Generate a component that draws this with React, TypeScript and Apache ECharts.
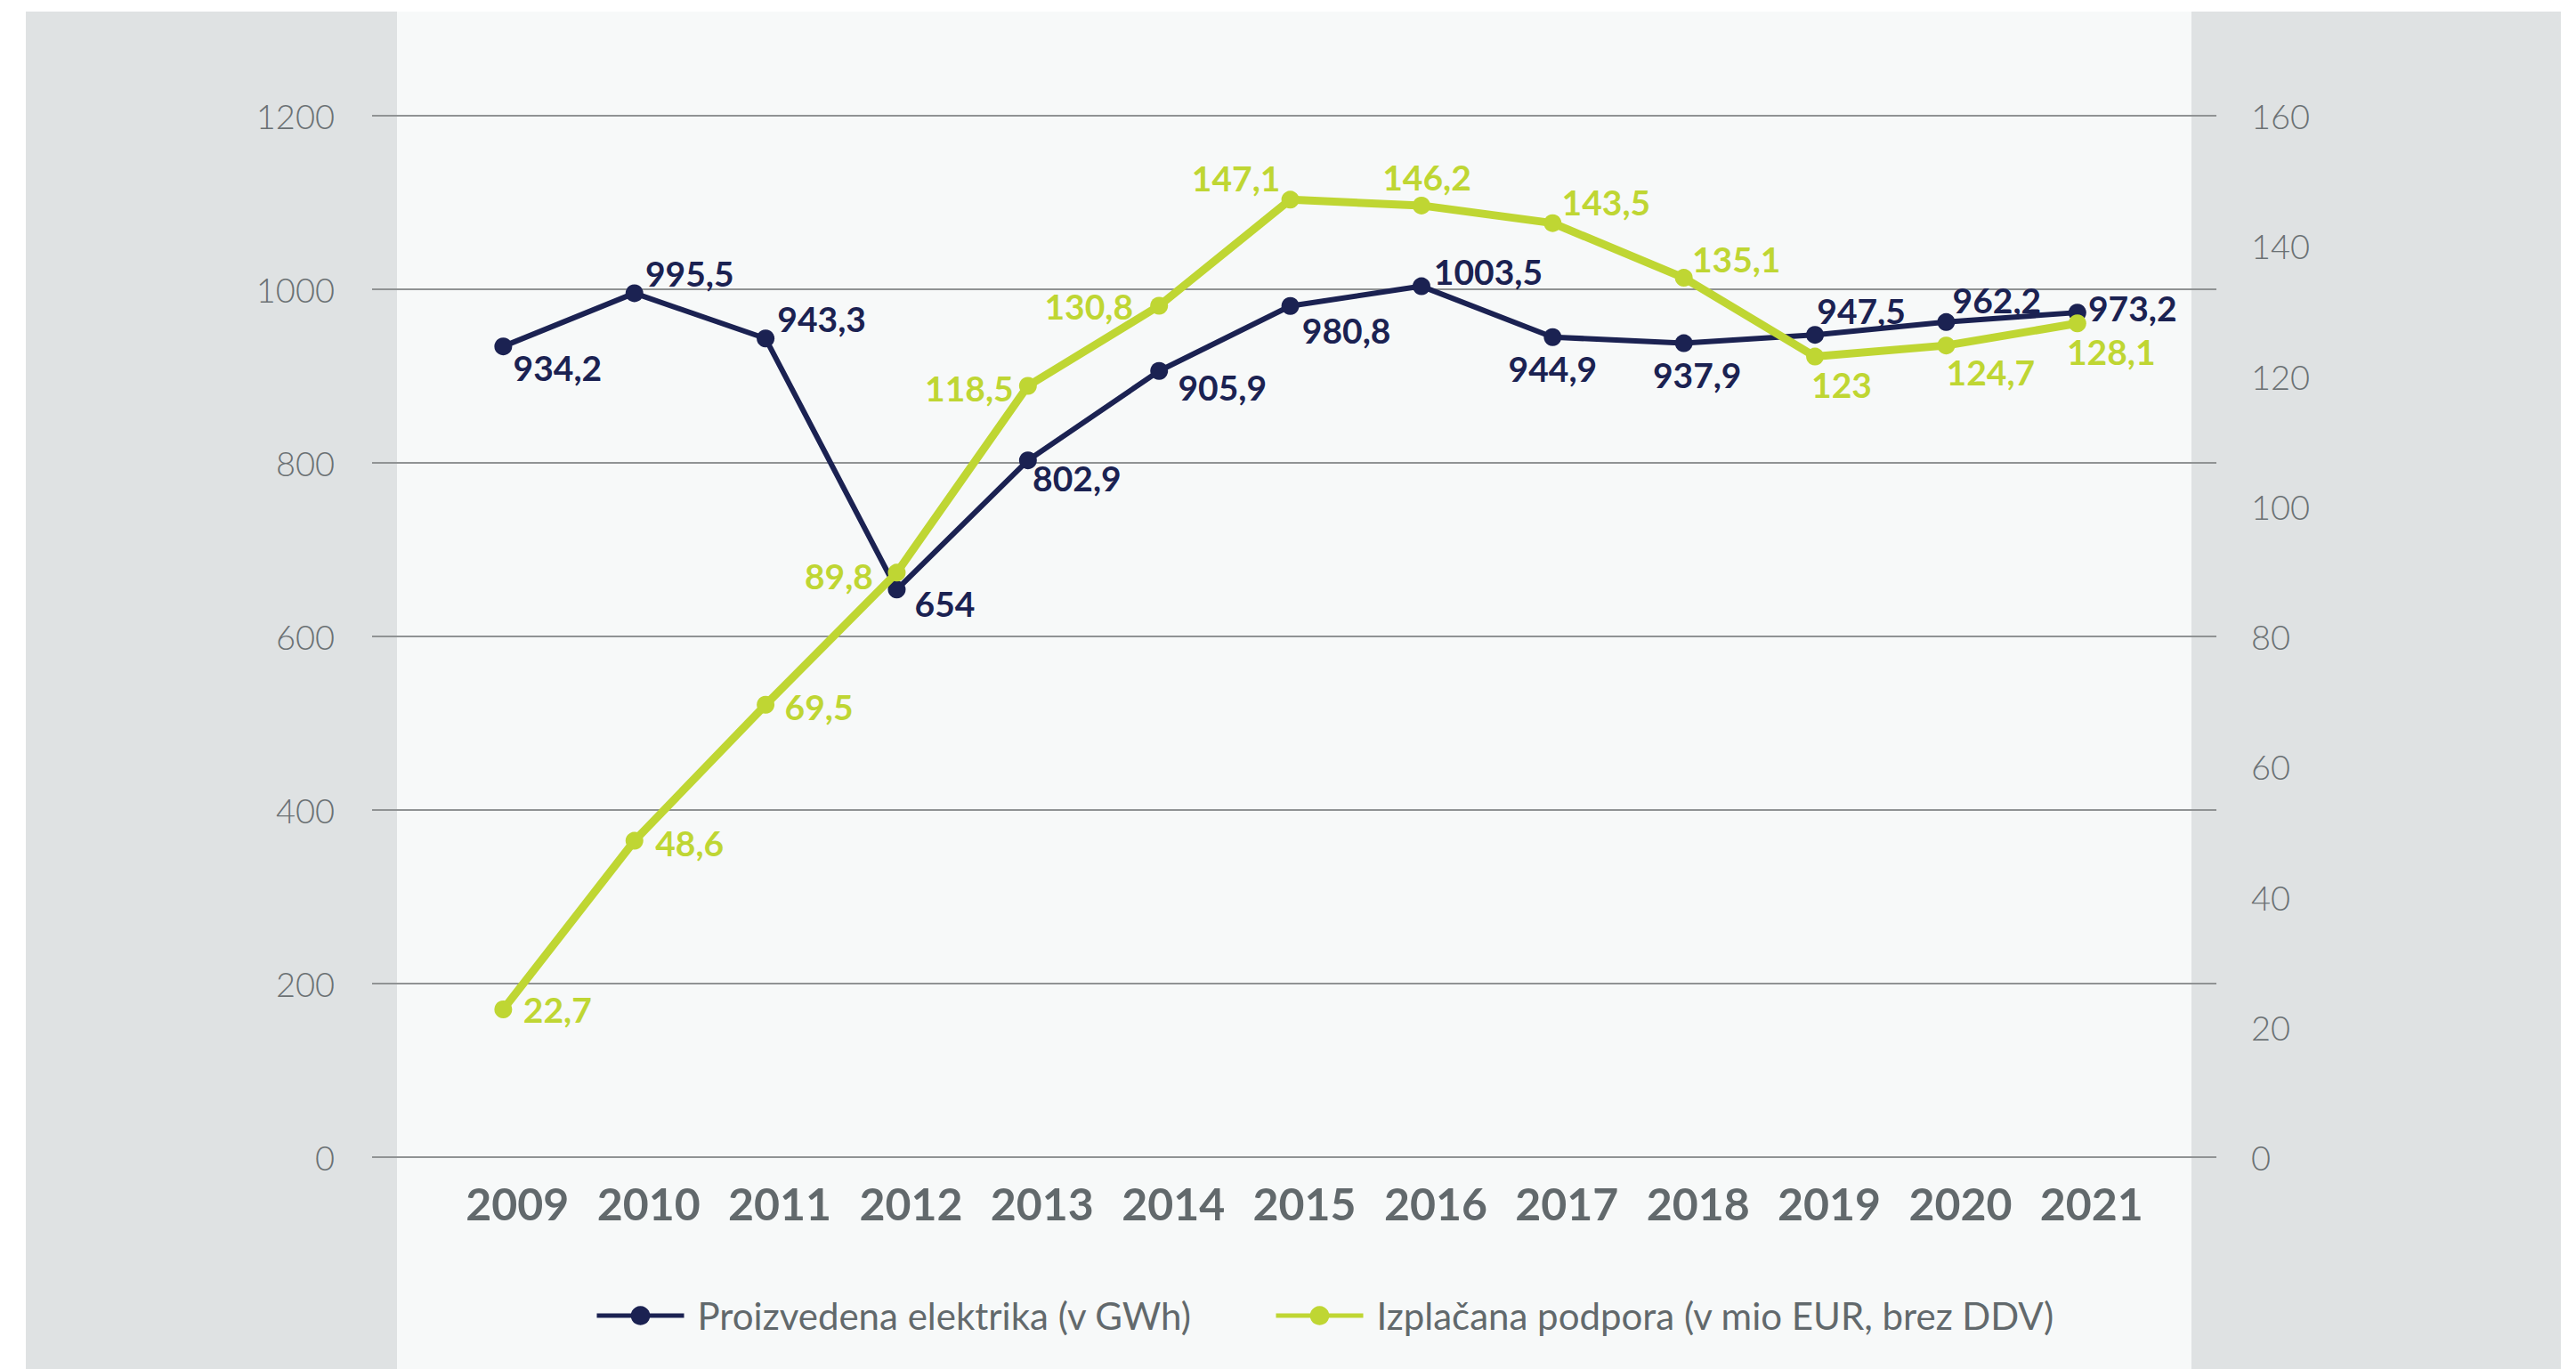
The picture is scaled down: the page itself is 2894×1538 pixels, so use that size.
import React, { useEffect, useRef } from "react";
import * as echarts from "echarts";

// ---- data ----
const years = [2009, 2010, 2011, 2012, 2013, 2014, 2015, 2016, 2017, 2018, 2019, 2020, 2021];
const production = [934.2, 995.5, 943.3, 654, 802.9, 905.9, 980.8, 1003.5, 944.9, 937.9, 947.5, 962.2, 973.2];
const support = [22.7, 48.6, 69.5, 89.8, 118.5, 130.8, 147.1, 146.2, 143.5, 135.1, 123, 124.7, 128.1];
const seriesNames = ["Proizvedena elektrika (v GWh)", "Izplačana podpora (v mio EUR, brez DDV)"];
const leftAxis = { min: 0, max: 1200, interval: 200 };
const rightAxis = { min: 0, max: 160, interval: 20 };

// ---- label placement (pixel offsets from each point) ----
const productionLabelOffsets = [
  [61, 24], [62, -22], [63, -22], [54, 16], [55, 20], [71, 18], [63, 27],
  [75, -17], [0, 35], [15, 35], [52, -27], [57, -25], [62, -5],
];
const supportLabelOffsets = [
  [61, 0], [62, 2], [60, 2], [-65, 4], [-66, 3], [-79, 0], [-61, -24],
  [6, -32], [60, -24], [59, -21], [30, 31], [50, 30], [38, 32],
];

const NAVY = "#1b2252";
const GREEN = "#bfd633";
const GREY_TEXT = "#62696c";
const FONT = "Lato";

const fmt = (v: number) => String(v).replace(".", ",");

export default function App() {
  const ref = useRef<HTMLDivElement>(null);

  useEffect(() => {
    if (!ref.current) return;
    const chart = echarts.init(ref.current, undefined, { renderer: "svg" });

    const mkData = (vals: number[], offs: number[][]) =>
      years.map((y, i) => ({
        value: [y, vals[i]],
        label: { offset: offs[i] },
      }));

    chart.setOption({
      animation: false,
      backgroundColor: "#ffffff",
      textStyle: { fontFamily: FONT },
      graphic: [
        { type: "rect", z: -100, silent: true, shape: { x: 29, y: 13, width: 2848, height: 1525 }, style: { fill: "#dfe2e3" } },
        { type: "rect", z: -99, silent: true, shape: { x: 446, y: 13, width: 2016, height: 1525 }, style: { fill: "#f7f9f9" } },
      ],
      grid: { left: 418, right: 404, top: 130, bottom: 238, containLabel: false },
      legend: {
        left: 663,
        top: 1452,
        itemWidth: 98,
        itemHeight: 27,
        itemGap: 92,
        lineStyle: { width: 5 },
        textStyle: { fontFamily: FONT, fontSize: 42, color: GREY_TEXT, padding: [0, 0, 0, 10] },
        data: seriesNames,
      },
      xAxis: {
        type: "value",
        min: 2008,
        max: 2022.06,
        interval: 1,
        axisLine: { show: false },
        axisTick: { show: false },
        splitLine: { show: false },
        axisLabel: {
          formatter: (v: number) =>
            v >= years[0] && v <= years[years.length - 1] ? "{y|" + String(v) + "}" : "",
          align: "center",
          margin: 27,
          rich: {
            y: {
              width: 84,
              align: "left",
              fontFamily: FONT,
              fontWeight: "bold",
              fontSize: 50,
              color: GREY_TEXT,
            },
          },
        },
      },
      yAxis: [
        {
          type: "value",
          ...leftAxis,
          position: "left",
          axisLine: { show: false },
          axisTick: { show: false },
          splitLine: { show: true, lineStyle: { color: "#909394", width: 2 } },
          axisLabel: {
            formatter: (v: number) => String(v),
            fontFamily: FONT, fontWeight: 300, fontSize: 38, color: "#6b7174", margin: 42,
          },
        },
        {
          type: "value",
          ...rightAxis,
          position: "right",
          axisLine: { show: false },
          axisTick: { show: false },
          splitLine: { show: false },
          axisLabel: {
            formatter: (v: number) => String(v),
            fontFamily: FONT, fontWeight: 300, fontSize: 38, color: "#6b7174", margin: 39,
          },
        },
      ],
      series: [
        {
          name: seriesNames[0],
          type: "line",
          yAxisIndex: 0,
          data: mkData(production, productionLabelOffsets),
          color: NAVY,
          lineStyle: { color: NAVY, width: 6 },
          itemStyle: { color: NAVY },
          symbol: "circle",
          symbolSize: 20,
          showAllSymbol: true,
          label: {
            show: true,
            position: "inside",
            align: "center",
            verticalAlign: "middle",
            formatter: (p: any) => fmt(p.value[1]),
            fontFamily: FONT,
            fontWeight: "bold",
            fontSize: 39,
            color: NAVY,
          },
          z: 2,
        },
        {
          name: seriesNames[1],
          type: "line",
          yAxisIndex: 1,
          data: mkData(support, supportLabelOffsets),
          color: GREEN,
          lineStyle: { color: GREEN, width: 9 },
          itemStyle: { color: GREEN },
          symbol: "circle",
          symbolSize: 20,
          showAllSymbol: true,
          label: {
            show: true,
            position: "inside",
            align: "center",
            verticalAlign: "middle",
            formatter: (p: any) => fmt(p.value[1]),
            fontFamily: FONT,
            fontWeight: "bold",
            fontSize: 39,
            color: GREEN,
          },
          z: 3,
        },
      ],
    });

    return () => chart.dispose();
  }, []);

  return (
    <div
      ref={ref}
      style={{ position: "fixed", left: 0, top: 0, width: "2894px", height: "1538px" }}
    />
  );
}
